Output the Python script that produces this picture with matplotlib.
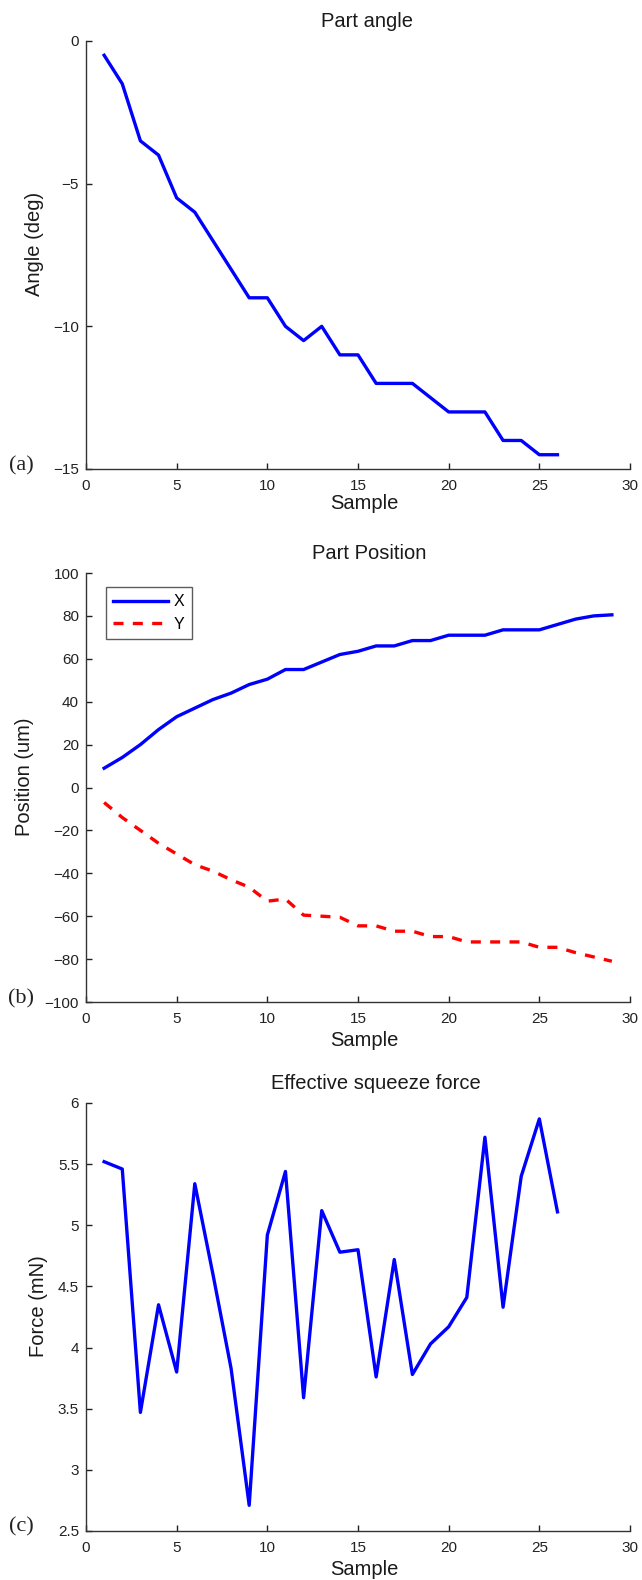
import matplotlib
matplotlib.use("Agg")
import matplotlib.pyplot as plt

plt.rcParams['font.family'] = ['Liberation Sans', 'DejaVu Sans']

# Panel (a): Part angle
samples_a = list(range(1, 27))
angle_deg = [-0.5, -1.5, -3.5, -4, -5.5, -6, -7, -8, -9, -9, -10, -10.5, -10,
             -11, -11, -12, -12, -12, -12.5, -13, -13, -13, -14, -14, -14.5, -14.5]

# Panel (b): Part Position
samples_b = list(range(1, 30))
pos_x = [9, 14, 20, 27, 33, 37, 41, 44, 48, 50.5, 55, 55, 58.5, 62, 63.5, 66, 66,
         68.5, 68.5, 71, 71, 71, 73.5, 73.5, 73.5, 76, 78.5, 80, 80.5]
pos_y = [-7, -14, -20, -26, -31, -36, -39, -43, -46.5, -53, -52, -59.5, -60, -60.5,
         -64.5, -64.5, -67, -67, -69.5, -69.5, -72, -72, -72, -72, -74.5, -74.5,
         -77, -79, -81]

# Panel (c): Effective squeeze force
samples_c = list(range(1, 27))
force_mN = [5.52, 5.46, 3.47, 4.35, 3.80, 5.34, 4.60, 3.83, 2.71, 4.92, 5.44, 3.59,
            5.12, 4.78, 4.80, 3.76, 4.72, 3.78, 4.03, 4.17, 4.41, 5.72, 4.33, 5.40,
            5.87, 5.11]

x_ticks = [0, 5, 10, 15, 20, 25, 30]

W, H = 642, 1580
fig = plt.figure(figsize=(W / 100, H / 100), dpi=100)

def axes_px(left, top, right, bottom):
    return fig.add_axes([left / W, 1 - bottom / H, (right - left) / W, (bottom - top) / H])

def style(ax):
    for s in ('top', 'right'):
        ax.spines[s].set_visible(False)
    for s in ('left', 'bottom'):
        ax.spines[s].set_linewidth(1.0)
        ax.spines[s].set_color('#333333')
    ax.tick_params(direction='in', length=4, width=1.0, labelsize=11, colors='#222222')
    ax.tick_params(axis='x', pad=7)
    ax.tick_params(axis='y', pad=5)
    ax.set_xlim(0, 30)
    ax.set_xticks(x_ticks)

label_kw = dict(fontsize=14.5, color='#1a1a1a')
title_kw = dict(fontsize=14.5, color='#1a1a1a', pad=10)

def labels(ax, xl, yl, title, ylab_x, title_x, xlab_y=-0.0678):
    ax.set_xlabel(xl, **label_kw)
    ax.xaxis.set_label_coords(0.512, xlab_y)
    ax.set_ylabel(yl, **label_kw)
    ax.yaxis.set_label_coords(ylab_x, 0.525)
    ax.set_title(title, x=title_x, **title_kw)

# (a)
ax1 = axes_px(86, 41, 630, 469)
ax1.plot(samples_a, angle_deg, color='#0000ff', lw=2.4)
style(ax1)
ax1.set_ylim(-15, 0)
ax1.set_yticks([-15, -10, -5, 0])
labels(ax1, 'Sample', 'Angle (deg)', 'Part angle', -0.0772, 0.5165, xlab_y=-0.059)

# (b)
ax2 = axes_px(86, 573, 630, 1002)
ax2.plot(samples_b, pos_x, color='#0000ff', lw=2.4, label='X')
ax2.plot(samples_b, pos_y, color='#ff0000', lw=2.4, ls=(0, (3, 2.8)), label='Y')
style(ax2)
ax2.set_ylim(-100, 100)
ax2.set_yticks(list(range(-100, 101, 20)))
labels(ax2, 'Sample', 'Position (um)', 'Part Position', -0.0956, 0.52)
leg = ax2.legend(loc='upper left', bbox_to_anchor=(0.037, 0.967), fontsize=11.5,
                 frameon=True, fancybox=False, handlelength=3.4, handletextpad=0.4,
                 borderpad=0.45, labelspacing=0.45, borderaxespad=0)
leg.get_frame().set_edgecolor('#333333')
leg.get_frame().set_linewidth(1.0)

# (c)
ax3 = axes_px(86, 1103, 630, 1531)
ax3.plot(samples_c, force_mN, color='#0000ff', lw=2.4)
style(ax3)
ax3.set_ylim(2.5, 6)
ax3.set_yticks([2.5, 3, 3.5, 4, 4.5, 5, 5.5, 6])
ax3.set_yticklabels(['2.5', '3', '3.5', '4', '4.5', '5', '5.5', '6'])
labels(ax3, 'Sample', 'Force (mN)', 'Effective squeeze force', -0.0699, 0.533)

# Panel letters
for lab, ypx in (('(a)', 466), ('(b)', 999), ('(c)', 1527)):
    fig.text(21 / W, 1 - ypx / H, lab, ha='center', va='center', fontsize=16,
             family=['Liberation Serif', 'DejaVu Serif'], color='#222222')

fig.savefig('out.png', dpi=100)
